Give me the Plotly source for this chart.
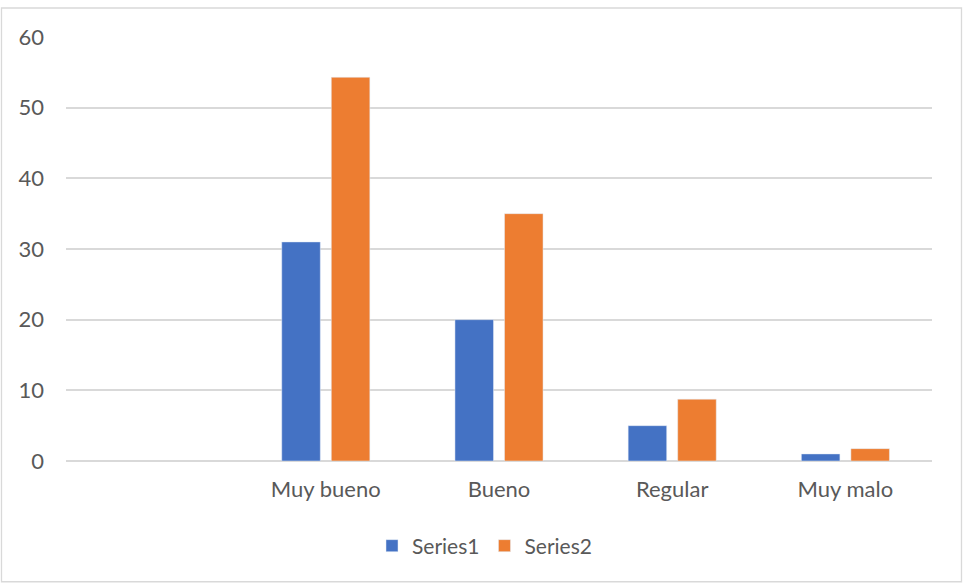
import plotly.graph_objects as go

categories = ["Muy bueno", "Bueno", "Regular", "Muy malo"]
series1 = [31, 20, 5, 1]
series2 = [54.3, 35.0, 8.75, 1.75]
y_ticks = [0, 10, 20, 30, 40, 50, 60]

FONT = "Lato"
TXT = "#595959"
GRID = "#d9d9d9"

fig = go.Figure()
fig.add_trace(go.Bar(name="Series1", x=categories, y=series1, marker_color="#4472C4"))
fig.add_trace(go.Bar(name="Series2", x=categories, y=series2, marker_color="#ED7D31"))

fig.update_layout(
    width=963, height=583,
    margin=dict(l=66, r=31, t=36.5, b=122.3),
    paper_bgcolor="white", plot_bgcolor="white",
    barmode="group", bargap=0.428, bargroupgap=0.222,
    font=dict(family=FONT, size=22, color=TXT),
    showlegend=True,
    legend=dict(orientation="h", xref="container", yref="container",
                x=372/963, xanchor="left", y=1-546/583, yanchor="middle",
                font=dict(family=FONT, size=21, color=TXT),
                itemwidth=30, traceorder="normal"),
)
fig.update_xaxes(
    type="category", range=[-1.5, 3.5], showgrid=False, showline=False,
    zeroline=False, ticks="", ticklabelstandoff=13,
    tickfont=dict(family=FONT, size=22, color=TXT),
)
fig.update_yaxes(
    range=[0, 60], tickvals=y_ticks, showgrid=True, gridcolor=GRID, gridwidth=1.5,
    zeroline=True, zerolinecolor=GRID, zerolinewidth=1.5, showline=False,
    ticks="", ticklabelstandoff=21,
    tickfont=dict(family=FONT, size=22, color=TXT),
)
fig.add_shape(type="rect", xref="paper", yref="paper",
              x0=-(66-1.5)/866, x1=1+(961.5-932)/866,
              y0=-(581.5-460.7)/424.2, y1=1+(36.5-7.5)/424.2,
              line=dict(color=GRID, width=1.3), fillcolor="rgba(0,0,0,0)", layer="below")

fig.write_html("out.html")
